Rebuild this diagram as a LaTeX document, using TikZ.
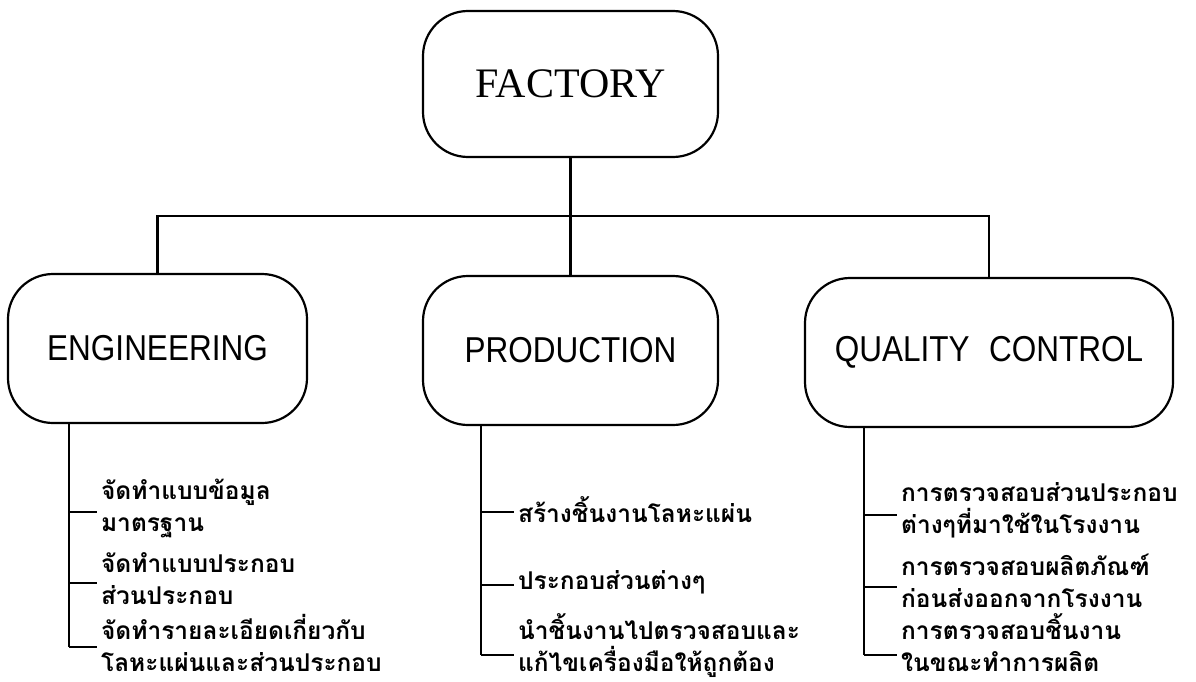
\documentclass[tikz,border=0pt]{standalone}
\usepackage{fontspec}
\setmainfont{Liberation Serif}
\newfontfamily\boxfont[FakeStretch=0.875]{Liberation Sans}
\newfontfamily\thaifont[Script=Thai]{Loma}
\begin{document}
\begin{tikzpicture}[x=1pt,y=-1pt,
  line width=2.2pt,
  orgbox/.style={draw, rectangle, rounded corners=45pt, inner sep=0pt, line width=2.2pt},
  item/.style={anchor=west, inner sep=0pt, align=left, font=\thaifont\bfseries\fontsize{24.5}{32}\selectfont},
  tick/.style={shorten >=3pt}
]
\useasboundingbox (0,0) rectangle (1196,682);

\node[orgbox, minimum width=295pt, minimum height=146pt, font=\fontsize{42}{42}\selectfont] (fac) at (570.5,84) {\raisebox{-3pt}{FACTORY}};
\node[orgbox, minimum width=299pt, minimum height=149pt, font=\boxfont\fontsize{36}{36}\selectfont] (eng) at (157.5,348.5) {ENGINEERING};
\node[orgbox, minimum width=295pt, minimum height=149pt, font=\boxfont\fontsize{36}{36}\selectfont] (prod) at (570.5,350.5) {PRODUCTION};
\node[orgbox, minimum width=368pt, minimum height=149pt, font=\boxfont\fontsize{36}{36}\selectfont] (qc) at (989,352.5) {QUALITY\hspace{0.3em} CONTROL};

\coordinate (bus) at (570.5,216);
\draw (fac.south) -- (bus);
\draw (bus) -- (prod.north);
\draw (eng.north) |- (bus) -| (qc.north);

% Engineering items
\coordinate (e1) at (69,512);
\coordinate (e2) at (69,583);
\coordinate (e3) at (69,647);
\node[item] (ei1) at (100,508) {จัดทำแบบข้อมูล\\มาตรฐาน};
\node[item] (ei2) at (100,579) {จัดทำแบบประกอบ\\ส่วนประกอบ};
\node[item] (ei3) at (100,643) {จัดทำรายละเอียดเกี่ยวกับ\\โลหะแผ่นและส่วนประกอบ};
\draw (eng.south -| e3) -- (e3);
\draw[tick] (e1) -- (e1 -| ei1.west);
\draw[tick] (e2) -- (e2 -| ei2.west);
\draw[tick] (e3) -- (e3 -| ei3.west);

% Production items
\coordinate (p1) at (481,512);
\coordinate (p2) at (481,585);
\coordinate (p3) at (481,655);
\node[item] (pi1) at (517,510) {สร้างชิ้นงานโลหะแผ่น};
\node[item] (pi2) at (517,582) {ประกอบส่วนต่างๆ};
\node[item] (pi3) at (517,646) {นำชิ้นงานไปตรวจสอบและ\\แก้ไขเครื่องมือให้ถูกต้อง};
\draw (prod.south -| p3) -- (p3);
\draw[tick] (p1) -- (p1 -| pi1.west);
\draw[tick] (p2) -- (p2 -| pi2.west);
\draw[tick] (p3) -- (p3 -| pi3.west);

% Quality control items
\coordinate (q1) at (864,515);
\coordinate (q2) at (864,587);
\coordinate (q3) at (864,655);
\node[item] (qi1) at (900,510) {การตรวจสอบส่วนประกอบ\\ต่างๆที่มาใช้ในโรงงาน};
\node[item] (qi2) at (900,581) {การตรวจสอบผลิตภัณฑ์\\ก่อนส่งออกจากโรงงาน};
\node[item] (qi3) at (900,643) {การตรวจสอบชิ้นงาน\\ในขณะทำการผลิต};
\draw (qc.south -| q3) -- (q3);
\draw[tick] (q1) -- (q1 -| qi1.west);
\draw[tick] (q2) -- (q2 -| qi2.west);
\draw[tick] (q3) -- (q3 -| qi3.west);
\end{tikzpicture}
\end{document}
